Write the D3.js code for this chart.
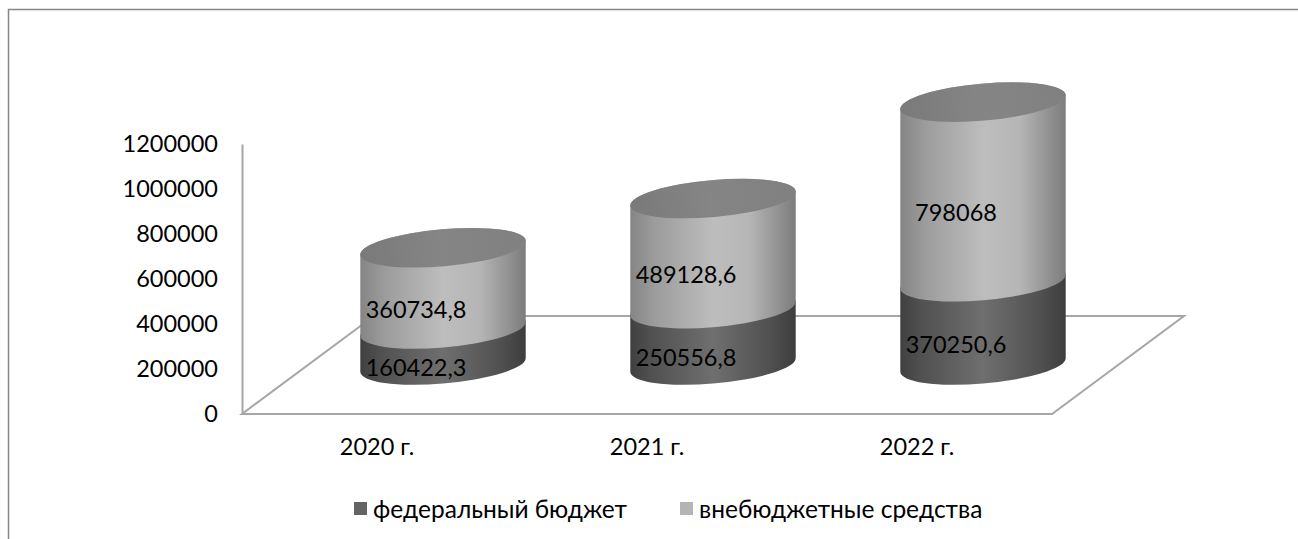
<!DOCTYPE html>
<html>
<head>
<meta charset="utf-8">
<script src="https://cdn.jsdelivr.net/npm/d3@7"></script>
<style>
  html, body { margin: 0; padding: 0; background: #fff; overflow: hidden; }
  text { font-family: Lato, "Open Sans", sans-serif; fill: #000; }
</style>
</head>
<body>
<div id="container"></div>
<script>
/* DATA */
const years = ["2020 г.", "2021 г.", "2022 г."];
const federal = [160422.3, 250556.8, 370250.6];
const offBudget = [360734.8, 489128.6, 798068];
const federalLabels = ["160422,3", "250556,8", "370250,6"];
const offBudgetLabels = ["360734,8", "489128,6", "798068"];
const seriesNames = ["федеральный бюджет", "внебюджетные средства"];
const yTicks = [0, 200000, 400000, 600000, 800000, 1000000, 1200000];

/* CONSTANTS */
const width = 1298;
const height = 539;
const fontSize = 23.5;
const legendFontSize = 24.5;
// the 3d floor goes back this far, bars stand half way in
const depth = { x: 132, y: -98 };
const rx = 83, ry = 18.5, tilt = -5;

const svg = d3.select("#container")
  .append("svg")
  .attr("width", width)
  .attr("height", height)
  .style("display", "block");

// Gradients for the cylinder sides
const defs = svg.append("defs");
function sideGradient(id, stops) {
  const g = defs.append("linearGradient").attr("id", id);
  g.selectAll("stop")
    .data(stops)
    .join("stop")
    .attr("offset", d => d[0])
    .attr("stop-color", d => d[1]);
}
sideGradient("grad0", [[0, "#404040"], [0.12, "#505050"], [0.5, "#6f6f6f"], [0.85, "#505050"], [1, "#3d3d3d"]]);
sideGradient("grad1", [[0, "#858585"], [0.15, "#9c9c9c"], [0.5, "#bdbdbd"], [0.72, "#b6b6b6"], [1, "#7c7c7c"]]);
sideGradient("gradTop", [[0, "#7a7a7a"], [0.5, "#858585"], [1, "#808080"]]);

// Outer frame, open on the right and bottom
svg.append("path")
  .attr("d", `M8.5,${height} V9.5 H${width}`)
  .attr("fill", "none")
  .attr("stroke", "#868686")
  .attr("stroke-width", 1.5);

// Scales
const xScale = d3.scaleBand().domain(years).range([242, 1052]);
const yScale = d3.scaleLinear().domain([0, 1200000]).range([414, 144]);

// Floor
const [x0, x1] = xScale.range();
const y0 = yScale(0);
svg.append("path")
  .attr("d", `M${x0},${y0} L${x1},${y0} L${x1 + depth.x},${y0 + depth.y} L${x0 + depth.x},${y0 + depth.y} Z`)
  .attr("fill", "none")
  .attr("stroke", "#a6a6a6")
  .attr("stroke-width", 2);

// Axes
const yAxis = svg.append("g")
  .attr("transform", `translate(${x0}, 0)`)
  .call(d3.axisLeft(yScale).tickValues(yTicks).tickFormat(d3.format("d")).tickSize(0).tickPadding(24));
yAxis.select(".domain").attr("stroke", "#a6a6a6").attr("stroke-width", 2);
yAxis.selectAll("text").attr("font-size", fontSize).style("font-family", null);

const xAxis = svg.append("g")
  .attr("transform", `translate(0, ${y0})`)
  .call(d3.axisBottom(xScale).tickSize(0).tickPadding(24));
xAxis.select(".domain").remove();
xAxis.selectAll("text").attr("font-size", fontSize).style("font-family", null);

// Stack the two series
const rows = years.map((y, i) => ({ year: y, a: federal[i], b: offBudget[i] }));
const stacked = d3.stack().keys(["a", "b"])(rows);

// where the rotated ellipse touches its vertical sides
const rad = tilt * Math.PI / 180;
const hx = Math.sqrt(rx * rx * Math.cos(rad) ** 2 + ry * ry * Math.sin(rad) ** 2);
const dy = (rx * rx - ry * ry) * Math.abs(Math.sin(rad) * Math.cos(rad)) / hx;

const cx = d => xScale(d.data.year) + xScale.bandwidth() / 2 + depth.x / 2;
const cy = v => yScale(v) + depth.y / 2;

function sidePath(d) {
  const c = cx(d), lo = cy(d[0]), hi = cy(d[1]);
  return `M${c - hx},${hi + dy} L${c - hx},${lo + dy}`
    + ` A${rx},${ry} ${tilt} 0 0 ${c + hx},${lo - dy}`
    + ` L${c + hx},${hi - dy}`
    + ` A${rx},${ry} ${tilt} 0 0 ${c - hx},${hi + dy} Z`;
}

const series = svg.selectAll("g.series")
  .data(stacked)
  .join("g")
  .attr("class", "series");

series.selectAll("path.side")
  .data((s, i) => s.map(d => Object.assign(d, { grad: i })))
  .join("path")
  .attr("class", "side")
  .attr("d", sidePath)
  .attr("fill", d => `url(#grad${d.grad})`);

// Cylinder caps
svg.selectAll("ellipse.cap")
  .data(stacked[1])
  .join("ellipse")
  .attr("class", "cap")
  .attr("rx", rx)
  .attr("ry", ry)
  .attr("transform", d => `translate(${cx(d)}, ${cy(d[1])}) rotate(${tilt})`)
  .attr("fill", "url(#gradTop)");

// Value labels
const labelSets = [federalLabels, offBudgetLabels];
stacked.forEach((s, i) => {
  svg.selectAll(`text.value${i}`)
    .data(s)
    .join("text")
    .attr("class", `value${i}`)
    .attr("x", d => cx(d) - 27)
    .attr("y", d => cy((d[0] + d[1]) / 2) + 21)
    .attr("dy", "0.35em")
    .attr("text-anchor", "middle")
    .attr("font-size", fontSize)
    .text((d, j) => labelSets[i][j]);
});

// Legend
const legendColors = ["#646464", "#b4b4b4"];
const legendX = d3.scaleOrdinal().domain(seriesNames).range([354, 680]);
const legend = svg.selectAll("g.legend")
  .data(seriesNames)
  .join("g")
  .attr("class", "legend")
  .attr("transform", d => `translate(${legendX(d)}, 502)`);
legend.append("rect")
  .attr("width", 13)
  .attr("height", 13)
  .attr("fill", (d, i) => legendColors[i]);
legend.append("text")
  .attr("x", 19)
  .attr("y", 7)
  .attr("dy", "0.35em")
  .attr("font-size", legendFontSize)
  .text(d => d);
</script>
</body>
</html>
